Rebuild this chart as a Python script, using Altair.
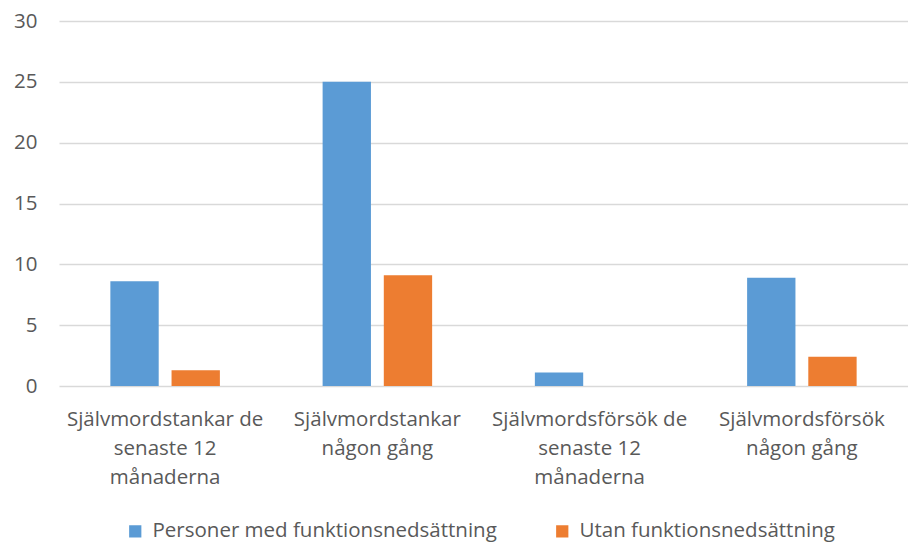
import altair as alt
import pandas as pd

categories = [
    "Självmordstankar de|senaste 12|månaderna",
    "Självmordstankar|någon gång",
    "Självmordsförsök de|senaste 12|månaderna",
    "Självmordsförsök|någon gång",
]
series = ["Personer med funktionsnedsättning", "Utan funktionsnedsättning"]
with_disability = [8.6, 25.0, 1.1, 8.9]
without_disability = [1.3, 9.1, 0.0, 2.4]

rows = []
for c, a, b in zip(categories, with_disability, without_disability):
    rows.append({"cat": c, "series": series[0], "value": a})
    rows.append({"cat": c, "series": series[1], "value": b})
df = pd.DataFrame(rows)

FONT = "Open Sans"
GREY = "#595959"
FS = 20.5

chart = alt.Chart(df).mark_bar().encode(
    x=alt.X(
        "cat:N",
        sort=categories,
        title=None,
        scale=alt.Scale(paddingInner=0.484, paddingOuter=0.242),
        axis=alt.Axis(
            labelAngle=0,
            labelExpr="split(datum.label, '|')",
            labelFont=FONT,
            labelFontSize=FS,
            labelColor=GREY,
            labelLineHeight=29,
            labelPadding=23,
            labelBaseline="top",
            ticks=False,
            domain=False,
            grid=False,
            labelLimit=300,
        ),
    ),
    xOffset=alt.XOffset("series:N", sort=series, scale=alt.Scale(paddingInner=0.21)),
    y=alt.Y(
        "value:Q",
        title=None,
        scale=alt.Scale(domain=[0, 30], nice=False),
        axis=alt.Axis(
            values=[0, 5, 10, 15, 20, 25, 30],
            labelFont=FONT,
            labelFontSize=FS,
            labelColor=GREY,
            labelPadding=22,
            ticks=False,
            domain=False,
            gridColor="#d9d9d9",
            gridWidth=1.5,
        ),
    ),
    color=alt.Color(
        "series:N",
        sort=series,
        scale=alt.Scale(domain=series, range=["#5B9BD5", "#ED7D31"]),
        legend=alt.Legend(
            title=None,
            orient="none",
            direction="horizontal",
            legendX=66,
            legendY=500,
            symbolType="square",
            symbolSize=150,
            symbolStrokeWidth=0,
            labelFont=FONT,
            labelFontSize=FS,
            labelColor=GREY,
            columnPadding=55,
            labelOffset=7,
            labelLimit=400,
        ),
    ),
).properties(
    width=849,
    height=365,
    autosize=alt.AutoSizeParams(type="none"),
    padding={"left": 51, "top": 13, "right": 0, "bottom": 156},
).configure(background="white").configure_view(stroke=None)

chart.save("out.html", embed_options={"renderer": "svg", "actions": False})
